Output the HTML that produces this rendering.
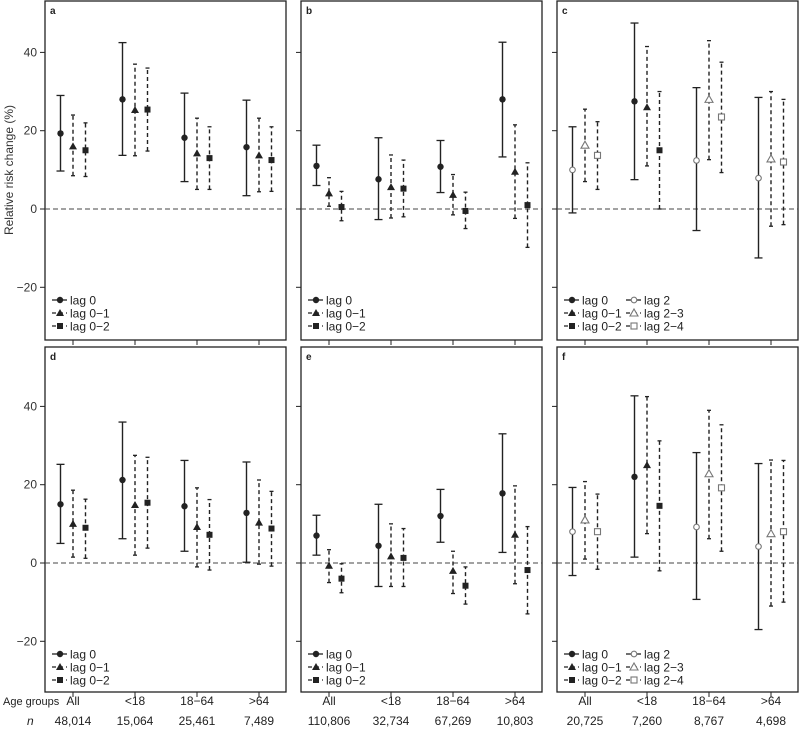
<!DOCTYPE html>
<html><head><meta charset="utf-8"><style>
body{margin:0;background:#fff;}
svg{display:block;font-family:"Liberation Sans",Arial,sans-serif;}
</style></head><body>
<svg id="chart" width="799" height="729" viewBox="0 0 799 729"></svg>
<script>
const groups=["All","<18","18−64",">64"];
const nTop=["48,014","15,064","25,461","7,489"];
const nMid=["110,806","32,734","67,269","10,803"];
const nRight=["20,725","7,260","8,767","4,698"];
const yTicks=[-20,0,20,40];
const panelA=[[[19.3,9.7,29],[16,8.5,24],[15,8.3,22]],[[28,13.7,42.5],[25.3,13.6,37],[25.4,14.8,36]],[[18.2,7,29.6],[14.2,5,23.2],[13,5,21]],[[15.8,3.4,27.8],[13.7,4.4,23.2],[12.5,4.5,21]]];
const panelB=[[[11,6,16.3],[4,0.7,8],[0.5,-3,4.5]],[[7.6,-2.7,18.2],[5.6,-2.3,13.8],[5.2,-2,12.5]],[[10.8,4.2,17.5],[3.6,-1.5,8.8],[-0.5,-5,4.3]],[[28,13.3,42.6],[9.5,-2.4,21.5],[1,-9.8,11.8]]];
const panelC=[[[10,-1,21],[16.3,7,25.5],[13.7,5,22.3]],[[27.5,7.5,47.5],[26,11,41.5],[15,0,30]],[[12.4,-5.5,31],[28,12.6,43],[23.5,9.3,37.5]],[[7.9,-12.5,28.5],[12.8,-4.4,30],[12,-4,28]]];
const panelD=[[[15,5,25.2],[10,1.5,18.6],[9,1.2,16.3]],[[21.2,6.2,36],[14.8,2,27.5],[15.4,3.8,27]],[[14.5,3,26.2],[9.2,-1,19.2],[7.2,-1.8,16.2]],[[12.8,0.2,25.8],[10.3,-0.3,21.2],[8.8,-0.8,18.3]]];
const panelE=[[[7,2,12.2],[-0.7,-5,3.4],[-4,-7.6,-0.2]],[[4.4,-6,15],[1.7,-6,10],[1.3,-6,8.8]],[[12,5.3,18.8],[-2,-7.8,3],[-5.8,-10.5,-1]],[[17.8,2.7,33],[7.2,-5.3,19.7],[-1.8,-13,9.3]]];
const panelF=[[[8,-3.2,19.3],[11,1,20.8],[8,-1.6,17.6]],[[22,1.5,42.7],[25,7.5,42.5],[14.6,-2,31.2]],[[9.2,-9.3,28.2],[22.8,6.2,39],[19.2,3,35.3]],[[4.2,-17,25.4],[7.5,-11,26.3],[8,-10,26.2]]];

const svg=document.getElementById('chart');
const NS="http://www.w3.org/2000/svg";
function mk(tag,attrs,parent,text){const e=document.createElementNS(NS,tag);for(const k in attrs)e.setAttribute(k,attrs[k]);if(text!==undefined)e.textContent=text;(parent||svg).appendChild(e);return e;}
const scale=3.915;
const panels=[
 {letter:"a",data:panelA,col:0,row:0,lagged:false},
 {letter:"b",data:panelB,col:1,row:0,lagged:false},
 {letter:"c",data:panelC,col:2,row:0,lagged:true},
 {letter:"d",data:panelD,col:0,row:1,lagged:false},
 {letter:"e",data:panelE,col:1,row:1,lagged:false},
 {letter:"f",data:panelF,col:2,row:1,lagged:true}];
function marker(g,type,x,y,open){
 const fill=open?"#fff":"#222", stroke=open?"#777":"#222";
 const sw=open?1.1:0;
 if(type===0) mk('circle',{cx:x,cy:y,r:open?2.8:3.2,fill:fill,stroke:stroke,'stroke-width':sw},g);
 else if(type===1) mk('polygon',{points:`${x},${y-4} ${x-4},${y+3} ${x+4},${y+3}`,fill:fill,stroke:stroke,'stroke-width':sw},g);
 else mk('rect',{x:x-3,y:y-3,width:6,height:6,fill:fill,stroke:stroke,'stroke-width':sw},g);
}
panels.forEach(p=>{
 const L=45+p.col*256, W=241, T=p.row===0?1:347, B=p.row===0?340:692;
 const y0=p.row===0?209:563;
 const ys=v=>y0-v*scale;
 const xs=i=>L+28+i*62;
 const g=mk('g',{},svg);
 
 
 const fr=mk('rect',{x:L,y:T,width:W,height:B-T,fill:'none',stroke:'#222','stroke-width':1.3},g);
 
 const lt=mk('text',{x:L+5,y:T+13,'font-size':10,'font-weight':'bold',fill:'#222'},g,p.letter);
 
 const zl=mk('line',{x1:L,x2:L+W,y1:ys(0),y2:ys(0),stroke:'#444','stroke-dasharray':'5,3','stroke-width':1},g);
 
 yTicks.forEach(t=>{
  const tk=mk('line',{x1:L-5,x2:L,y1:ys(t),y2:ys(t),stroke:'#222'},g);
  
  if(p.col===0){const tl=mk('text',{x:L-8,y:ys(t)+4,'text-anchor':'end','font-size':12,fill:'#333'},g,t<0?'−'+(-t):t);
   }
 });
 groups.forEach((gr,i)=>{
  const tk=mk('line',{x1:xs(i),x2:xs(i),y1:B,y2:B+5,stroke:'#222'},g);
  
  p.data[i].forEach((s,j)=>{
   const x=xs(i)+(j-1)*12.5;
   const open=p.lagged && !(i===1);
   const sg=mk('g',{},g);
   
   
   const dash=j===0?'':'4,3';
   mk('line',{x1:x,x2:x,y1:ys(s[1]),y2:ys(s[2]),stroke:'#222','stroke-width':1.4,'stroke-dasharray':dash},sg);
   const cw=j===0?4:2;
   mk('line',{x1:x-cw,x2:x+cw,y1:ys(s[1]),y2:ys(s[1]),stroke:'#222','stroke-width':1.3},sg);
   mk('line',{x1:x-cw,x2:x+cw,y1:ys(s[2]),y2:ys(s[2]),stroke:'#222','stroke-width':1.3},sg);
   marker(sg,j,x,ys(s[0]),open);
  });
 });
 const ly=p.row===0?300:654;
 const labs=["lag 0","lag 0−1","lag 0−2"], labs2=["lag 2","lag 2−3","lag 2−4"];
 const lg=mk('g',{},g);
 
 const cols=p.lagged?[[L+7,labs,false],[L+69,labs2,true]]:[[L+7,labs,false]];
 cols.forEach(c=>{
  labs.forEach((_,k)=>{
   const yy=ly+k*13, x=c[0];
   const e=mk('g',{},lg);
   
   mk('line',{x1:x,x2:x+15,y1:yy,y2:yy,stroke:'#222','stroke-width':1.3,'stroke-dasharray':k===0?'':'4,3'},e);
   marker(e,k,x+8,yy,c[2]);
   mk('text',{x:x+18,y:yy+4.5,'font-size':12,fill:'#222'},e,c[1][k]);
  });
 });
});
const yt=mk('text',{x:0,y:0,transform:'translate(13,170) rotate(-90)','text-anchor':'middle','font-size':12,fill:'#333'},svg,'Relative risk change (%)');

const ag=mk('text',{x:3,y:705,'font-size':11,fill:'#222'},svg,'Age groups');

const nl=mk('text',{x:27,y:725,'font-size':12,'font-style':'italic',fill:'#222'},svg,'n');

[nTop,nMid,nRight].forEach((arr,c)=>{
 groups.forEach((gr,i)=>{
  const x=45+c*256+28+i*62;
  const a=mk('text',{x:x,y:705,'text-anchor':'middle','font-size':12,fill:'#222'},svg,gr);
  
  const b=mk('text',{x:x,y:725,'text-anchor':'middle','font-size':12,fill:'#222'},svg,arr[i]);
  
 });
});
</script>
</body></html>
